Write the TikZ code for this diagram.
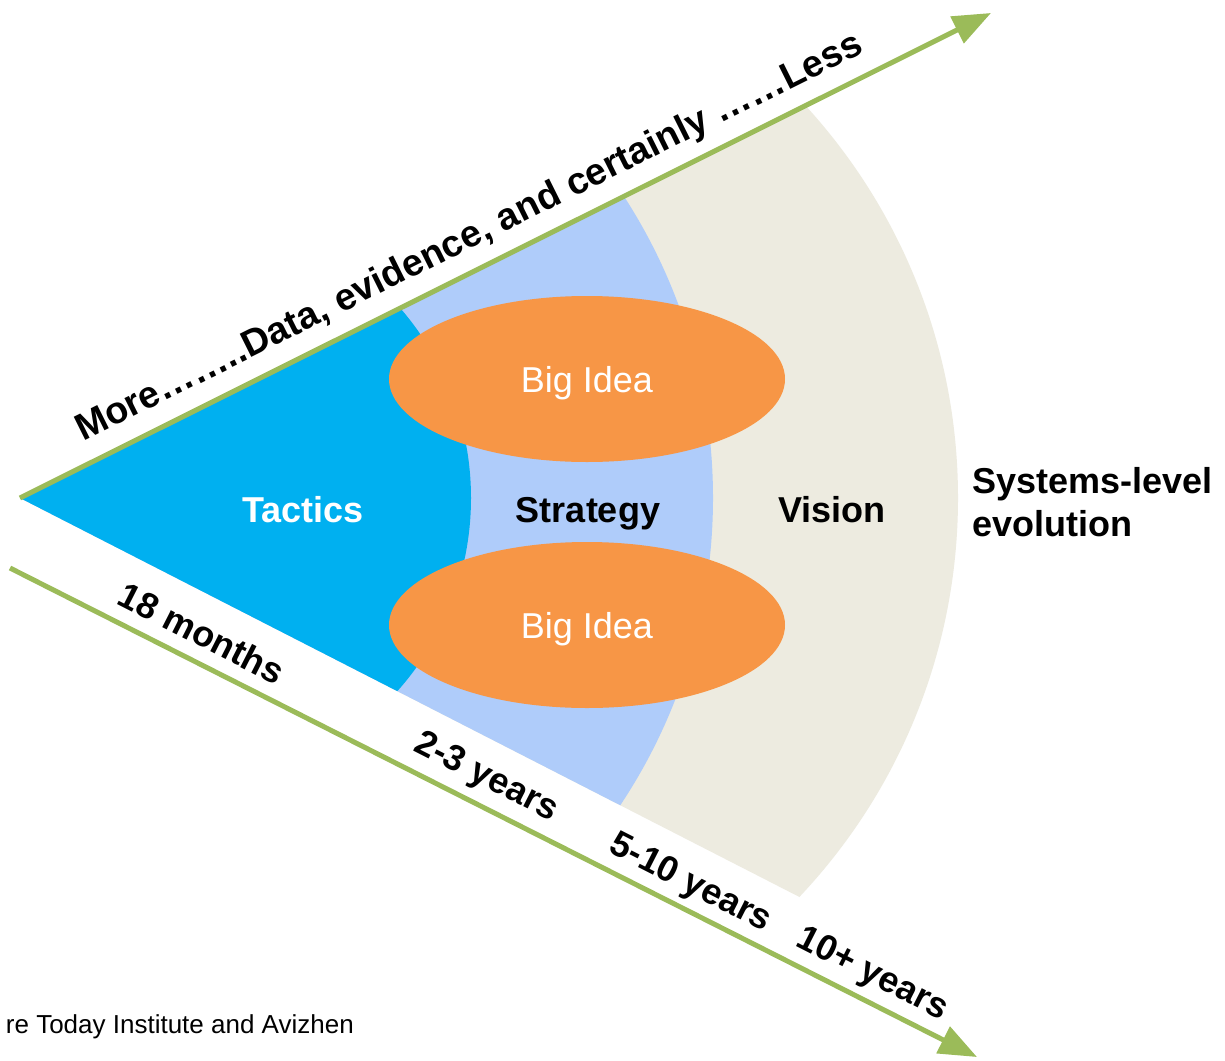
\documentclass[tikz,border=0pt]{standalone}
\usepackage{fontspec}
\setmainfont{Liberation Sans}
\usetikzlibrary{arrows.meta,shapes.geometric}
\definecolor{tacblue}{HTML}{00B0F0}
\definecolor{strblue}{HTML}{AFCCFA}
\definecolor{visbeige}{HTML}{EDEBE0}
\definecolor{ideaorange}{HTML}{F79646}
\definecolor{axisgreen}{HTML}{9BBB59}
\begin{document}
\begin{tikzpicture}[x=1pt,y=-1pt,
  axisline/.style={draw=axisgreen,line width=5pt,-{Triangle[length=38pt,width=29pt]}},
  boldlabel/.style={font=\fontsize{36}{43}\selectfont\bfseries,inner sep=0pt},
  idea/.style={ellipse,fill=ideaorange,minimum width=396pt,minimum height=166pt,inner sep=0pt,text depth=0pt,text=white,font=\fontsize{36}{43}\selectfont},
  timelabel/.style={font=\fontsize{36}{43}\selectfont\bfseries,rotate=-27,inner sep=0pt}]
\useasboundingbox (0,0) rectangle (1225,1060);
\fill[white] (0,0) rectangle (1225,1060);
\coordinate (apex) at (20,498);
\coordinate (uptip) at (991,13);
\coordinate (lowstart) at (10,568);
\coordinate (lowtip) at (977,1057);
\begin{scope}
  \clip (apex) -- (1200,-91) -- (1200,1102) -- cycle;
  \fill[visbeige] (377,498) circle[radius=581];
  \fill[strblue] (158,498) circle[radius=555];
  \fill[tacblue] (181,498) circle[radius=290];
\end{scope}
\draw[axisline] (apex) -- (uptip);
\draw[axisline] (lowstart) -- (lowtip);
\node[idea] (idea1) at (587,379) {Big Idea};
\node[idea] (idea2) at (587,625) {Big Idea};
\node[boldlabel,text=white,anchor=base] (tactics) at (303,522) {Tactics};
\node[boldlabel,anchor=base] (strategy) at (588,522) {Strategy};
\node[boldlabel,anchor=base] (vision) at (832,522) {Vision};
\node[boldlabel,anchor=west,align=left] (systems) at (972,502) {Systems-level\\evolution};
\node[font=\fontsize{37.6}{43}\selectfont\bfseries,rotate=26.5,anchor=base,inner sep=0pt] (toptext) at (474,247) {More……..Data, evidence, and certainly ……Less};
\node[timelabel] (t18) at (202,633) {18 months};
\node[timelabel] (t23) at (486,778) {2-3 years};
\node[timelabel] (t510) at (690,884) {5-10 years};
\node[timelabel] (t10) at (872,975) {10+ years};
\node[font=\fontsize{26}{30}\selectfont,anchor=base east,inner sep=0pt] (source) at (354,1033) {re Today Institute and Avizhen};
\end{tikzpicture}
\end{document}
